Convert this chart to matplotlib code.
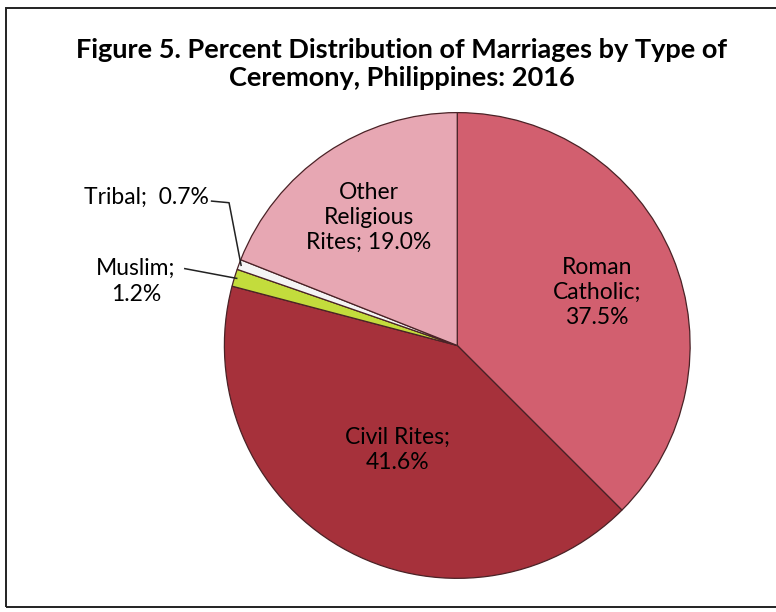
import numpy as np
import matplotlib
matplotlib.use("Agg")
import matplotlib.pyplot as plt
from matplotlib.patches import Rectangle

# data (clockwise from 12 o'clock)
categories = ["Roman Catholic", "Civil Rites", "Muslim", "Tribal", "Other Religious Rites"]
shares = [37.5, 41.6, 1.2, 0.7, 19.0]
label_text = ["Roman\nCatholic;\n37.5%", "Civil Rites;\n41.6%", "Muslim;\n1.2%",
              "Tribal;  0.7%", "Other\nReligious\nRites; 19.0%"]
colors = ["#d25f6f", "#a6313b", "#c3dc3c", "#f4f4f4", "#e7a7b3"]

plt.rcParams["font.family"] = ["Lato", "DejaVu Sans"]

fig = plt.figure(figsize=(7.76, 6.12), dpi=100)
fig.patches.append(Rectangle((0.008, 0.008), 1.0, 0.979, transform=fig.transFigure,
                             fill=False, edgecolor="#222222", linewidth=1.4))

fig.text(0.518, 0.896, "Figure 5. Percent Distribution of Marriages by Type of\nCeremony, Philippines: 2016",
         ha="center", va="center", fontsize=19.5, fontweight="bold", linespacing=1.2)

ax = fig.add_axes([0.289, 0.055, 0.6005, 0.761])
wedges, _ = ax.pie(shares, colors=colors, startangle=90, counterclock=False,
                   wedgeprops=dict(edgecolor="#4a2226", linewidth=0.9))
ax.set_xlim(-1, 1)
ax.set_ylim(-1, 1)
ax.set_aspect("equal")
ax.axis("off")

fs = 16.5
# in-slice labels
ax.text(0.60, 0.228, label_text[0], ha="center", va="center", fontsize=fs, linespacing=1.25)
ax.text(-0.258, -0.447, label_text[1], ha="center", va="center", fontsize=fs, linespacing=1.25)
ax.text(-0.38, 0.55, label_text[4], ha="center", va="center", fontsize=fs, linespacing=1.25)

# outside labels with leader lines
def mid_point(w, r=1.0):
    ang = np.deg2rad((w.theta1 + w.theta2) / 2)
    return r * np.cos(ang), r * np.sin(ang)

tx, ty = mid_point(wedges[3], 0.99)
ax.text(-1.065, 0.635, label_text[3], ha="right", va="center", fontsize=fs, clip_on=False)
ax.plot([-1.055, -0.98, tx], [0.62, 0.613, ty], color="#222222", lw=1.1, clip_on=False)

mx, my = mid_point(wedges[2], 0.99)
ax.text(-1.38, 0.275, label_text[2], ha="center", va="center", fontsize=fs,
        linespacing=1.25, clip_on=False)
ax.plot([-1.17, mx], [0.33, my], color="#222222", lw=1.1, clip_on=False)

fig.savefig("out.png", dpi=100)
